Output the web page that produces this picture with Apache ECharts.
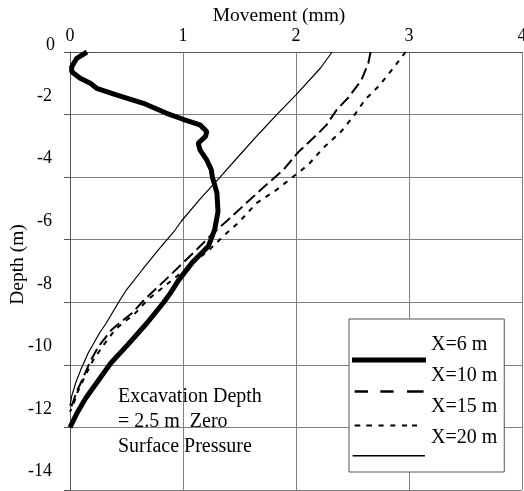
<!DOCTYPE html>
<html><head><meta charset="utf-8">
<script src="https://cdn.jsdelivr.net/npm/echarts@6/dist/echarts.min.js"></script>
<style>html,body{margin:0;padding:0;background:#fff}#c{width:524px;height:491px}</style>
</head><body><div id="c"></div>
<script>
// ---- data ----
const seriesNames = ['X=6 m', 'X=10 m', 'X=15 m', 'X=20 m'];
const xTicks = [0, 1, 2, 3, 4];
const yTicks = [0, -2, -4, -6, -8, -10, -12, -14];

const depth6 = [0, -0.2, -0.47, -0.63, -0.84, -1.0, -1.16, -1.37, -1.64, -1.96, -2.15, -2.33, -2.54, -2.7, -2.91, -3.13, -3.45, -3.76, -4.0, -4.5, -5.1, -5.68, -6.21, -6.74, -7.3, -7.7, -8.0, -8.67, -9.36, -9.95, -10.58, -11.06, -11.54, -12.0];
const move6  = [0.15, 0.06, 0.015, 0.015, 0.09, 0.18, 0.236, 0.41, 0.65, 0.855, 1.0, 1.15, 1.21, 1.2, 1.135, 1.15, 1.21, 1.25, 1.26, 1.30, 1.31, 1.28, 1.224, 1.08, 0.96, 0.89, 0.83, 0.68, 0.51, 0.36, 0.235, 0.14, 0.062, 0.0];

const depth10 = [0, -0.36, -0.89, -1.43, -1.85, -2.33, -2.59, -3.2, -3.76, -4.3, -4.83, -5.36, -5.78, -6.32, -6.74, -7.3, -7.91, -8.34, -8.87, -9.4, -9.88, -10.46, -10.89, -11.21, -11.45];
const move10  = [2.66, 2.64, 2.58, 2.47, 2.36, 2.27, 2.20, 2.02, 1.89, 1.72, 1.56, 1.40, 1.27, 1.12, 1.0, 0.84, 0.66, 0.55, 0.37, 0.255, 0.18, 0.11, 0.055, 0.025, 0];

const depth15 = [0, -0.52, -1.1, -1.53, -2.0, -2.54, -3.07, -3.6, -4.4, -4.83, -5.46, -5.84, -6.3, -6.8, -7.3, -7.91, -8.34, -8.87, -9.4, -9.88, -10.46, -10.89, -11.21, -11.5];
const move15  = [2.97, 2.86, 2.73, 2.61, 2.52, 2.40, 2.24, 2.11, 1.83, 1.65, 1.49, 1.37, 1.24, 1.07, 0.90, 0.69, 0.58, 0.40, 0.29, 0.20, 0.12, 0.065, 0.035, 0];

const depth20 = [0, -0.52, -1.37, -2.0, -2.58, -3.3, -3.99, -4.7, -5.41, -5.69, -6.33, -6.96, -7.6, -8.0, -8.67, -8.99, -9.63, -10.16, -10.58, -11.0, -11.3];
const move20  = [2.32, 2.215, 2.0, 1.83, 1.68, 1.50, 1.33, 1.15, 0.985, 0.93, 0.78, 0.64, 0.50, 0.43, 0.32, 0.26, 0.16, 0.095, 0.05, 0.015, 0];

const noteText = 'Excavation Depth\n= 2.5 m  Zero\nSurface Pressure';

// ---- styling ----
const FONT = 'Liberation Serif';
const depths = [depth6, depth10, depth15, depth20];
const moves = [move6, move10, move15, move20];
const lineStyles = [
  {width: 5, type: 'solid'},
  {width: 2, type: [12, 5]},
  {width: 2, type: [5, 6]},
  {width: 1.2, type: 'solid'}
];
// legend icon geometry: [segments], centre y, thickness (in a 74x40 box)
const iconDefs = [
  [[[0, 74]], 35, 5],
  [[[2.6, 16], [28.3, 41.6], [55, 71.6]], 35.6, 2.5],
  [[[2.6, 8.3], [14.3, 20], [26.6, 31.6], [38.3, 43.3], [50, 55], [60, 65]], 38.5, 2],
  [[[0.6, 72.9]], 37.7, 1.5]
];
function iconPath(def) {
  const segs = def[0], yc = def[1], th = def[2];
  let p = 'M0,0L74,0L74,0ZM0,40L74,40L74,40Z';
  const y0 = yc - th / 2, y1 = yc + th / 2;
  segs.forEach(function (s) {
    p += 'M' + s[0] + ',' + y0 + 'L' + s[1] + ',' + y0 + 'L' + s[1] + ',' + y1 + 'L' + s[0] + ',' + y1 + 'Z';
  });
  return 'path://' + p;
}

const chart = echarts.init(document.getElementById('c'), null, {renderer: 'canvas'});
chart.setOption({
  animation: false,
  color: ['#000'],
  title: {
    text: noteText, left: 118, top: 384, padding: 0,
    textStyle: {fontFamily: FONT, fontSize: 20, fontWeight: 'normal', lineHeight: 25, color: '#000'}
  },
  grid: {left: 70, right: 2, top: 52, bottom: 1, containLabel: false, outerBoundsMode: 'none'},
  xAxis: {
    type: 'value', position: 'top',
    min: xTicks[0], max: xTicks[xTicks.length - 1], interval: xTicks[1] - xTicks[0],
    name: 'Movement (mm)', nameLocation: 'middle', nameGap: 26, nameMoveOverlap: false,
    nameTextStyle: {fontFamily: FONT, fontSize: 19.5, color: '#000', padding: [0, 34, 0, 0]},
    axisLine: {show: true, onZero: false, lineStyle: {color: '#555', width: 1}},
    axisTick: {show: false},
    axisLabel: {margin: 7, fontFamily: FONT, fontSize: 18, color: '#000'},
    splitLine: {show: true, lineStyle: {color: '#808080', width: 1}}
  },
  yAxis: {
    type: 'value',
    min: yTicks[yTicks.length - 1], max: yTicks[0], interval: yTicks[0] - yTicks[1],
    name: 'Depth (m)', nameLocation: 'middle', nameGap: 42, nameRotate: 90, nameMoveOverlap: false,
    nameTextStyle: {fontFamily: FONT, fontSize: 19.5, color: '#000', padding: [0, 0, 0, 13]},
    axisLine: {show: true, onZero: false, lineStyle: {color: '#555', width: 1}},
    axisTick: {show: true, inside: false, length: 6, lineStyle: {color: '#555'}},
    axisLabel: {
      margin: 15, fontFamily: FONT, fontSize: 18, color: '#000',
      formatter: function (v) { return v === 0 ? '{z|0}' : '{a|' + v + '}'; },
      rich: {
        a: {padding: [0, 3, 37, 0], fontFamily: FONT, fontSize: 18, color: '#000'},
        z: {padding: [0, 0, 14, 0], fontFamily: FONT, fontSize: 18, color: '#000'}
      }
    },
    splitLine: {show: true, lineStyle: {color: '#808080', width: 1}}
  },
  legend: {
    orient: 'vertical', left: 349, top: 319, align: 'left',
    padding: [6, 7, 14, 3],
    itemWidth: 74, itemHeight: 40, itemGap: -9,
    symbolKeepAspect: false,
    backgroundColor: '#fff', borderColor: '#555', borderWidth: 1, borderRadius: 0,
    itemStyle: {borderWidth: 0},
    selectedMode: false,
    textStyle: {fontFamily: FONT, fontSize: 20, color: '#000'},
    data: seriesNames.map(function (n, i) { return {name: n, icon: iconPath(iconDefs[i])}; })
  },
  series: seriesNames.map(function (n, i) {
    return {
      name: n, type: 'line', symbol: 'none', showSymbol: false,
      itemStyle: {color: '#000'},
      lineStyle: {color: '#000', width: lineStyles[i].width, type: lineStyles[i].type},
      z: 3 + (i === 0 ? 1 : 0),
      data: depths[i].map(function (d, k) { return [moves[i][k], d]; })
    };
  })
});
</script></body></html>
